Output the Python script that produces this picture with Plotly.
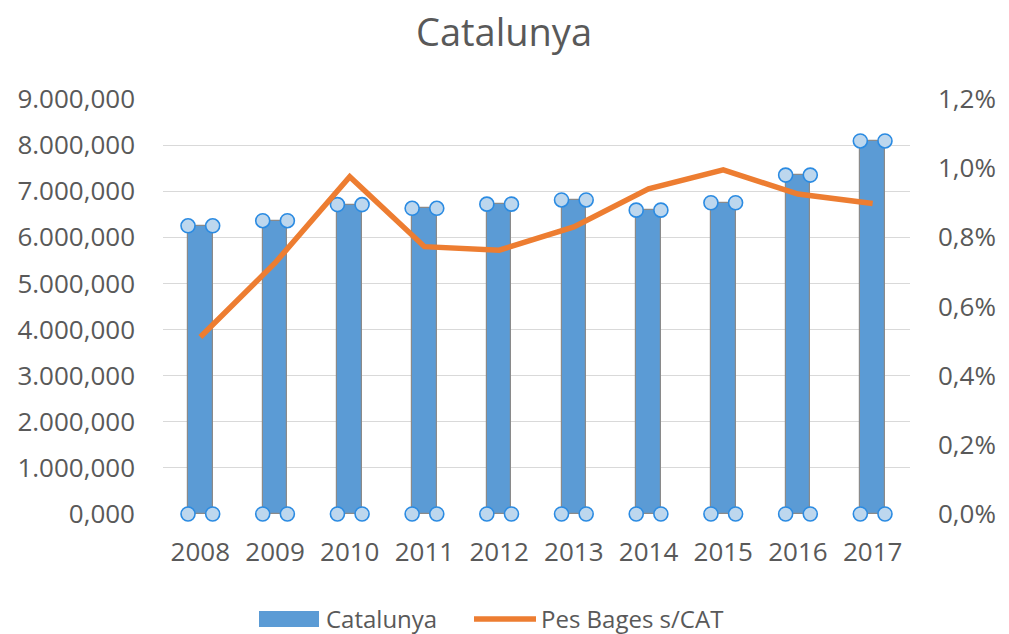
import plotly.graph_objects as go

years = ["2008", "2009", "2010", "2011", "2012", "2013", "2014", "2015", "2016", "2017"]
catalunya = [6250000, 6360000, 6710000, 6630000, 6720000, 6810000, 6590000, 6750000, 7350000, 8090000]
pes_bages = [0.512, 0.726, 0.975, 0.773, 0.763, 0.830, 0.940, 0.995, 0.925, 0.898]  # percent

left_tickvals = [0, 1e6, 2e6, 3e6, 4e6, 5e6, 6e6, 7e6, 8e6, 9e6]
left_ticktext = ["0,000", "1.000,000", "2.000,000", "3.000,000", "4.000,000",
                 "5.000,000", "6.000,000", "7.000,000", "8.000,000", "9.000,000"]
right_tickvals = [0, 0.2, 0.4, 0.6, 0.8, 1.0, 1.2]
right_ticktext = ["0,0%", "0,2%", "0,4%", "0,6%", "0,8%", "1,0%", "1,2%"]
series_names = ["Catalunya", "Pes Bages s/CAT"]

BLUE = "#5B9BD5"
ORANGE = "#ED7D31"
TXT = "#595959"

xs = list(range(len(years)))
bar_w = 0.33
half = bar_w / 2

fig = go.Figure()
fig.add_trace(go.Bar(
    x=xs, y=catalunya, name=series_names[0], width=bar_w,
    marker=dict(color=BLUE, line=dict(color="#8a8a8a", width=1.2)),
    yaxis="y", showlegend=False,
))
fig.add_trace(go.Scatter(
    x=xs, y=pes_bages, name=series_names[1], mode="lines",
    line=dict(color=ORANGE, width=5.5), yaxis="y2", showlegend=False,
))

# selection handles at bar corners
hx, hy = [], []
for i, v in zip(xs, catalunya):
    for dx in (-half, half):
        for yy in (0, v):
            hx.append(i + dx)
            hy.append(yy)
fig.add_trace(go.Scatter(
    x=hx, y=hy, mode="markers", showlegend=False, hoverinfo="skip",
    marker=dict(size=14, color="#BDD7EE", line=dict(color="#2B8BE2", width=1.6)),
    yaxis="y", cliponaxis=False,
))

font_family = "Open Sans, Liberation Sans, sans-serif"
OFF = 8  # page body margin in the browser
W, H = 1009 - OFF, 634 - OFF
PL, PR, PT, PB = 163, 910, 99, 514  # plot area in screen pixels
PW, PH = PR - PL, PB - PT


def pxp(x):
    return (x - PL) / PW


def pyp(y):
    return (PB - y) / PH


shapes = [
    dict(type="rect", xref="paper", yref="paper",
         x0=pxp(259), x1=pxp(319), y0=pyp(627), y1=pyp(611),
         fillcolor=BLUE, line=dict(width=0)),
    dict(type="line", xref="paper", yref="paper",
         x0=pxp(474), x1=pxp(536), y0=pyp(619), y1=pyp(619),
         line=dict(color=ORANGE, width=5.5)),
]
annotations = [
    dict(text=series_names[0], xref="paper", yref="paper",
         x=pxp(324), y=pyp(618), xanchor="left", yanchor="middle", showarrow=False,
         font=dict(size=24, color=TXT, family=font_family)),
    dict(text=series_names[1], xref="paper", yref="paper",
         x=pxp(539), y=pyp(618), xanchor="left", yanchor="middle", showarrow=False,
         font=dict(size=24, color=TXT, family=font_family)),
]

fig.update_layout(
    width=W, height=H,
    margin=dict(l=PL - OFF, r=1009 - PR, t=PT - OFF, b=634 - PB),
    paper_bgcolor="white", plot_bgcolor="white",
    title=dict(text="Catalunya", xref="container", x=(504 - OFF) / W, xanchor="center",
               yref="container", y=1 - (33 - OFF) / H, yanchor="middle",
               font=dict(size=38, color=TXT, family=font_family), automargin=False),
    font=dict(family=font_family, color=TXT, size=26),
    xaxis=dict(range=[-0.5, 9.5], tickvals=xs, ticktext=years, showgrid=False,
               zeroline=False, showline=False, ticks="", tickfont=dict(size=26),
               ticklabelstandoff=20, automargin=False),
    yaxis=dict(range=[0, 9e6], tickvals=left_tickvals, ticktext=left_ticktext,
               showgrid=True, gridcolor="#d9d9d9", gridwidth=1.3, zeroline=False,
               showline=False, ticks="", tickfont=dict(size=26), ticklabelstandoff=27,
               automargin=False),
    yaxis2=dict(range=[0, 1.2], tickvals=right_tickvals, ticktext=right_ticktext,
                overlaying="y", side="right", showgrid=False, zeroline=False,
                showline=False, ticks="", tickfont=dict(size=26), ticklabelstandoff=27,
                automargin=False),
    showlegend=False,
    shapes=shapes,
    annotations=annotations,
    bargap=0,
)
fig.write_html("out.html")
